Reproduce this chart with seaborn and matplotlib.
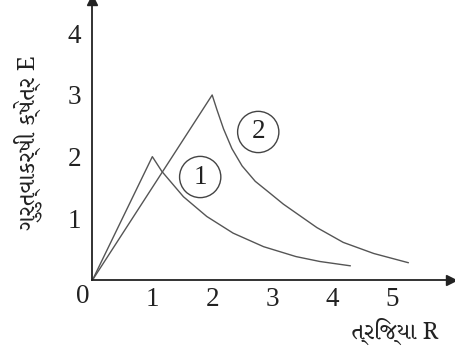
import matplotlib
matplotlib.use("Agg")
import matplotlib.pyplot as plt
import seaborn as sns
import pandas as pd

# values
r1 = [0, 1.0, 1.16, 1.52, 1.91, 2.35, 2.86, 3.40, 3.80, 4.31]
e1 = [0, 2.0, 1.76, 1.35, 1.03, 0.76, 0.54, 0.38, 0.30, 0.23]
r2 = [0, 2.0, 2.08, 2.19, 2.33, 2.50, 2.72, 2.95, 3.19, 3.47, 3.75, 4.19, 4.70, 5.28]
e2 = [0, 3.0, 2.76, 2.45, 2.13, 1.85, 1.60, 1.42, 1.23, 1.04, 0.85, 0.61, 0.43, 0.28]
xticks = [1, 2, 3, 4, 5]
yticks = [1, 2, 3, 4]
curve_labels = ["1", "2"]
label_pos = [(1.80, 1.67), (2.77, 2.40)]
xlabel = "ત્રિજ્યા R"
ylabel = "ગુરુત્વાકર્ષી ક્ષેત્ર E"

df = pd.concat([
    pd.DataFrame({"R": r1, "E": e1, "curve": "1"}),
    pd.DataFrame({"R": r2, "E": e2, "curve": "2"}),
])

sns.set_style("white")
guj = ["Noto Serif Gujarati", "Liberation Serif"]
num_font = "Liberation Serif"
ink = "#222222"

fig = plt.figure(figsize=(4.56, 3.62), dpi=100)
ax = fig.add_axes([92.5 / 456, 82 / 362, 359 / 456, 280 / 362])

sns.lineplot(data=df, x="R", y="E", units="curve", estimator=None, sort=False,
             color="#555555", linewidth=1.0, ax=ax)

ax.set_xlim(0, 6.0)
ax.set_ylim(0, 4.54)
for s in ["top", "right"]:
    ax.spines[s].set_visible(False)
for s in ["left", "bottom"]:
    ax.spines[s].set_color(ink)
    ax.spines[s].set_linewidth(1.3)

# arrow heads
ax.plot(1, 0, ">", color=ink, markersize=7, transform=ax.transAxes, clip_on=False)
ax.plot(0, 1, "^", color=ink, markersize=7, transform=ax.transAxes, clip_on=False)

ax.set_xticks(xticks)
ax.set_xticklabels([str(t) for t in xticks], fontfamily=num_font, fontsize=19.5, color=ink)
ax.set_yticks(yticks)
ax.set_yticklabels([str(t) for t in yticks], fontfamily=num_font, fontsize=19.5, color=ink)
ax.tick_params(axis="x", direction="in", length=5, width=1.2, color=ink, pad=5)
ax.tick_params(axis="y", length=0, pad=8)
ax.text(-0.17, -0.07, "0", fontfamily=num_font, fontsize=19.5, color=ink,
        ha="center", va="top", transform=ax.transData)

ax.set_xlabel("")
ax.set_ylabel("")
fig.text(395 / 456, 1 - 331 / 362, xlabel, family=guj, fontsize=17, color=ink,
         ha="center", va="center")
fig.text(28 / 456, 1 - 143 / 362, ylabel, family=guj, fontsize=17, color=ink,
         ha="center", va="center", rotation=90)

for lab, (x, y) in zip(curve_labels, label_pos):
    ax.text(x, y, lab, fontfamily=num_font, fontsize=19.5, color=ink, ha="center", va="center",
            bbox=dict(boxstyle="circle,pad=0.3", fc="none", ec="#444444", lw=1.0))

fig.savefig("out.png", dpi=100)
